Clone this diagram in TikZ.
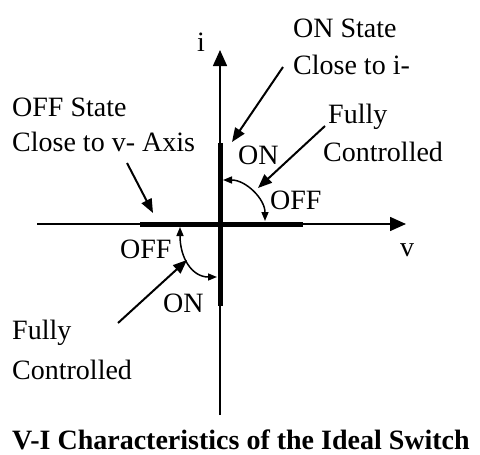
\documentclass[tikz,border=0pt]{standalone}
\usepackage{fontspec}
\setmainfont{Liberation Serif}
\usepackage{tikz}
\usetikzlibrary{arrows.meta,positioning}

\begin{document}
\begin{tikzpicture}[
    x=1pt, y=-1pt,
    lbl/.style={anchor=west, inner sep=0pt, font=\fontsize{28}{32}\selectfont},
    axis/.style={line width=1.5pt, -{Triangle[length=16pt,width=14pt]}},
    thickline/.style={line width=5pt},
    arrow/.style={line width=2pt, -{Triangle[length=14pt,width=11pt]}},
    swing/.style={line width=1.5pt, {Triangle[length=9pt,width=7pt]}-{Triangle[length=9pt,width=7pt]}}
]
\useasboundingbox (0,0) rectangle (480,455);

% axes
\coordinate (vleft) at (37,224);
\coordinate (vtip) at (406,224);
\coordinate (ibottom) at (220,415);
\coordinate (itip) at (220,50);
\draw[axis] (vleft) -- (vtip);
\draw[axis] (ibottom) -- (itip);

% ideal switch states
\coordinate (ontop) at (220,143);
\coordinate (onbottom) at (220,306);
\coordinate (offleft) at (140,224);
\coordinate (offright) at (303,224);
\draw[thickline] (ontop) -- (onbottom);
\draw[thickline] (offleft) -- (offright);

\node[lbl, anchor=center] (ilabel) at (201,42) {i};
\node[lbl, anchor=center] (vlabel) at (407,250) {v};

% labels
\node[lbl] (onstate) at (293,28) {ON State};
\node[lbl] (closei) at (293,65) {Close to i-};
\node[lbl] (offstate) at (12,107) {OFF State};
\node[lbl] (closev) at (12,142) {Close to v- Axis};
\node[lbl] (fullyA) at (328,117) {Fully};
\node[lbl] (ctrlA) at (323,152) {Controlled};
\node[lbl] (onA) at (238,155) {ON};
\node[lbl] (offA) at (270,200) {OFF};
\node[lbl] (offB) at (120,249) {OFF};
\node[lbl] (onB) at (163,303) {ON};
\node[lbl] (fullyB) at (12,333) {Fully};
\node[lbl] (ctrlB) at (12,370) {Controlled};
\node[lbl, anchor=center, font=\fontsize{28}{32}\selectfont\bfseries] (title) at (241,440) {V-I Characteristics of the Ideal Switch};

% pointers
\coordinate (ontip) at (232,142);
\coordinate (offtip) at (153,213);
\coordinate (swingA) at (258,188);
\coordinate (swingB) at (187,260);
\draw[arrow] ([xshift=-10pt,yshift=-2pt]closei.west) -- (ontip);
\draw[arrow] (127,163) -- (offtip);
\draw[arrow] (325,126) -- (swingA);
\draw[arrow] (118,323) -- (swingB);

% switching
\draw[swing] (223,180) .. controls (246,180) and (265,199) .. (265,221);
\draw[swing] (180,227) .. controls (180,258) and (192,277) .. (217,277);

\end{tikzpicture}
\end{document}
